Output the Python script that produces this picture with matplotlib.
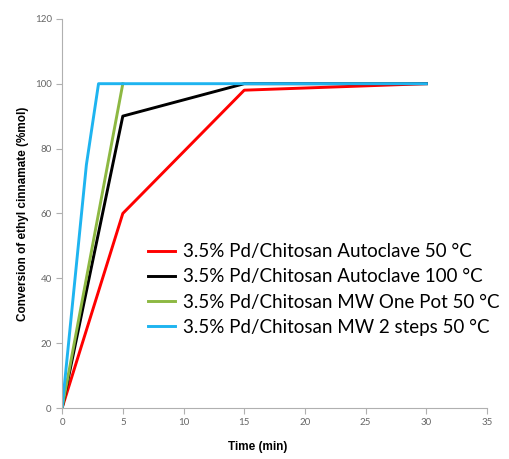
import matplotlib.pyplot as plt

# reaction time (min) and conversion (%mol)
t_auto50 = [0, 5, 15, 30]
conv_auto50 = [0, 60, 98, 100]
t_auto100 = [0, 5, 15, 30]
conv_auto100 = [0, 90, 100, 100]
t_mw_onepot = [0, 5]
conv_mw_onepot = [0, 100]
t_mw_2steps = [0, 2, 3, 30]
conv_mw_2steps = [0, 75, 100, 100]

labels = [
    "3.5% Pd/Chitosan Autoclave 50 \u00b0C",
    "3.5% Pd/Chitosan Autoclave 100 \u00b0C",
    "3.5% Pd/Chitosan MW One Pot 50 \u00b0C",
    "3.5% Pd/Chitosan MW 2 steps 50 \u00b0C",
]

fig = plt.figure(figsize=(5.09, 4.59), dpi=100)
ax = fig.add_axes([0.122, 0.111, 0.835, 0.848])

ax.plot(t_auto50, conv_auto50, color="#ff0000", lw=2.1, label=labels[0])
ax.plot(t_auto100, conv_auto100, color="#000000", lw=2.1, label=labels[1])
ax.plot(t_mw_onepot, conv_mw_onepot, color="#8db842", lw=2.1, label=labels[2])
ax.plot(t_mw_2steps, conv_mw_2steps, color="#1eb4f0", lw=2.1, label=labels[3])

ax.set_xlim(0, 35)
ax.set_ylim(0, 120)
ax.set_xticks(range(0, 36, 5))
ax.set_yticks(range(0, 121, 20))

for s in ["top", "right"]:
    ax.spines[s].set_visible(False)
for s in ["left", "bottom"]:
    ax.spines[s].set_color("#b0b0b0")
ax.tick_params(colors="#b0b0b0", labelcolor="#666666", labelsize=7, length=4, direction="out")
for lab in ax.get_xticklabels() + ax.get_yticklabels():
    lab.set_family("Lato")

ax.set_xlabel("Time (min)", fontsize=8.5, fontweight="bold", family="Liberation Sans")
ax.set_ylabel("Conversion of ethyl cinnamate (%mol)", fontsize=8.5, fontweight="bold",
              family="Liberation Sans")
ax.xaxis.set_label_coords(0.46, -0.085)

leg = ax.legend(loc="upper left", bbox_to_anchor=(0.202, 0.423), frameon=False,
                prop={"family": "Lato", "size": 13.5}, handlelength=1.45,
                labelspacing=0.43, handletextpad=0.4, borderaxespad=0, borderpad=0)

fig.savefig("out.png", dpi=100)
